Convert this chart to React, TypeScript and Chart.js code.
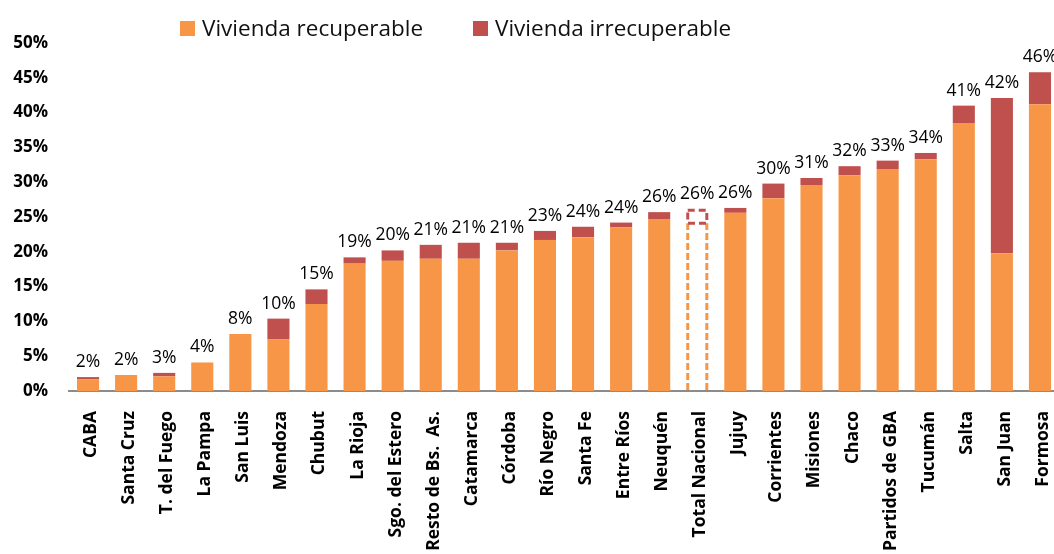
import React, { useEffect, useRef } from "react";
import { Chart, registerables } from "chart.js";

Chart.register(...registerables);

const categories = [
  "CABA", "Santa Cruz", "T. del Fuego", "La Pampa", "San Luis", "Mendoza", "Chubut",
  "La Rioja", "Sgo. del Estero", "Resto de Bs.  As.", "Catamarca", "Córdoba", "Río Negro",
  "Santa Fe", "Entre Ríos", "Neuquén", "Total Nacional", "Jujuy", "Corrientes", "Misiones",
  "Chaco", "Partidos de GBA", "Tucumán", "Salta", "San Juan", "Formosa",
];

const recuperable = [
  1.7, 2.3, 2.1, 4.1, 8.2, 7.4, 12.5, 18.3, 18.7, 19.0, 19.0, 20.2, 21.7,
  22.1, 23.5, 24.7, 24.1, 25.6, 27.7, 29.6, 31.0, 31.9, 33.3, 38.5, 19.8, 41.2,
];

const irrecuperable = [
  0.3, 0, 0.5, 0, 0, 3.0, 2.1, 0.9, 1.5, 2.0, 2.3, 1.1, 1.3,
  1.5, 0.7, 1.0, 2.1, 0.7, 2.1, 1.0, 1.3, 1.2, 0.9, 2.5, 22.3, 4.6,
];

const seriesNames = ["Vivienda recuperable", "Vivienda irrecuperable"];
const yMax = 50;
const yStep = 5;
const highlightCategory = "Total Nacional";

const ORANGE = "#F79646";
const RED = "#C0504D";
const FONT = "'Open Sans', 'Noto Sans', sans-serif";

export default function App() {
  const ref = useRef<HTMLCanvasElement>(null);

  useEffect(() => {
    const canvas = ref.current;
    if (!canvas) return;
    const hi = categories.indexOf(highlightCategory);

    const overlay = {
      id: "overlay",
      afterDatasetsDraw(chart: any) {
        const c = chart.ctx;
        const m0 = chart.getDatasetMeta(0);
        const m1 = chart.getDatasetMeta(1);
        if (hi >= 0) {
          const b0: any = m0.data[hi];
          const b1: any = m1.data[hi];
          const half = b0.width / 2;
          const lw = 3;
          const l = b0.x - half + lw / 2;
          const r = b0.x + half - lw / 2;
          c.save();
          c.lineWidth = lw;
          c.setLineDash([7, 3]);
          c.strokeStyle = ORANGE;
          c.beginPath();
          c.moveTo(l, b0.base - 1);
          c.lineTo(l, b0.y);
          c.moveTo(r, b0.base - 1);
          c.lineTo(r, b0.y);
          c.stroke();
          c.strokeStyle = RED;
          c.setLineDash([7, 4]);
          c.strokeRect(l, b1.y + lw / 2, r - l, b1.base - b1.y - lw / 2);
          c.restore();
        }
        c.save();
        c.font = `17.5px ${FONT}`;
        c.fillStyle = "#000";
        c.textAlign = "center";
        c.textBaseline = "alphabetic";
        categories.forEach((_, i) => {
          const total = recuperable[i] + irrecuperable[i];
          const e0: any = m0.data[i];
          const e1: any = m1.data[i];
          const top = Math.min(e0.y, e1.y);
          c.fillText(`${Math.round(total)}%`, e1.x, top - 10);
        });
        c.restore();
      },
      afterDraw(chart: any) {
        const c = chart.ctx;
        const colors = [ORANGE, RED];
        const xs = [180, 473];
        c.save();
        c.font = `22.5px ${FONT}`;
        c.textBaseline = "alphabetic";
        c.textAlign = "left";
        chart.data.datasets.forEach((ds: any, i: number) => {
          c.fillStyle = colors[i];
          c.fillRect(xs[i], 21, 15, 15);
          c.fillStyle = "#111";
          c.fillText(ds.label, xs[i] + 22, 36);
        });
        c.restore();
      },
    };

    const bgRec = categories.map((_, i) => (i === hi ? "rgba(0,0,0,0)" : ORANGE));
    const bgIrr = categories.map((_, i) => (i === hi ? "rgba(0,0,0,0)" : RED));

    const chart = new Chart(canvas, {
      type: "bar",
      data: {
        labels: categories,
        datasets: [
          { label: seriesNames[0], data: recuperable, backgroundColor: bgRec, borderWidth: 0 },
          { label: seriesNames[1], data: irrecuperable, backgroundColor: bgIrr, borderWidth: 0 },
        ],
      },
      options: {
        responsive: false,
        animation: false,
        devicePixelRatio: 1,
        layout: { padding: { top: 43, right: 0, bottom: 0, left: 0 } },
        plugins: {
          legend: { display: false },
          tooltip: { enabled: false },
        },
        datasets: { bar: { barPercentage: 0.58, categoryPercentage: 1 } },
        scales: {
          x: {
            stacked: true,
            grid: { display: false, drawTicks: false },
            border: { display: true, color: "#8c8c8c", width: 2 },
            ticks: {
              autoSkip: false,
              maxRotation: 90,
              minRotation: 90,
              padding: 20,
              labelOffset: 3,
              color: "#000",
              font: { family: FONT, size: 17.5, weight: "bold" },
            },
            afterFit: (scale: any) => {
              scale.height = 163;
              scale.paddingLeft = 0;
              scale.paddingRight = 0;
            },
          },
          y: {
            stacked: true,
            min: 0,
            max: yMax,
            grid: { display: false, drawTicks: false },
            border: { display: false },
            ticks: {
              stepSize: yStep,
              padding: 21,
              color: "#000",
              font: { family: FONT, size: 17, weight: "bold" },
              callback: (v: any) => `${v}%`,
            },
            afterFit: (scale: any) => {
              scale.width = 69;
            },
          },
        },
      },
      plugins: [overlay],
    });

    return () => chart.destroy();
  }, []);

  return (
    <div style={{ position: "fixed", left: 0, top: 0, width: 1054, height: 554, overflow: "hidden", background: "#fff" }}>
      <canvas ref={ref} width={1059} height={554} style={{ display: "block" }} />
    </div>
  );
}
